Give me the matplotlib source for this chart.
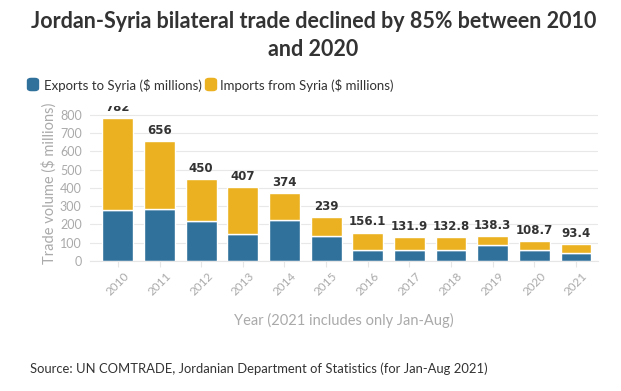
import matplotlib.pyplot as plt
from matplotlib.patches import FancyBboxPatch
import numpy as np

years = ["2010", "2011", "2012", "2013", "2014", "2015",
         "2016", "2017", "2018", "2019", "2020", "2021"]
totals = [782, 656, 450, 407, 374, 239, 156.1, 131.9, 132.8, 138.3, 108.7, 93.4]
exports = [278, 287, 218, 150, 223, 137, 60, 60, 59, 88, 59, 46]
imports = [t - e for t, e in zip(totals, exports)]
total_labels = ["782", "656", "450", "407", "374", "239",
                "156.1", "131.9", "132.8", "138.3", "108.7", "93.4"]

blue = "#30719c"
yellow = "#ebb121"
grey = "#aaaaaa"

plt.rcParams['font.family'] = ['Lato', 'DejaVu Sans']

fig = plt.figure(figsize=(6.21, 3.91), dpi=100)
ax = fig.add_axes([90 / 621, 1 - 261 / 391, 508 / 621, 155 / 391])

x = np.arange(len(years))
ax.bar(x, exports, width=0.74, color=blue, edgecolor="white", linewidth=1, zorder=2)
ax.bar(x, imports, width=0.74, bottom=exports, color=yellow, edgecolor="white",
       linewidth=1, zorder=2)

# total labels above each stack (clipped at the top like the original)
for xi, t, lab in zip(x, totals, total_labels):
    ax.text(xi, t + 22, lab, ha="center", va="bottom", fontsize=8.5,
            fontweight="bold", color="#333333", family="DejaVu Sans",
            zorder=3, clip_on=True)

ax.set_xlim(-0.67, 11.53)
ax.set_ylim(0, 849)
ax.set_yticks(range(0, 801, 100))
ax.tick_params(axis="y", length=0, labelsize=9, labelcolor=grey, pad=6)
ax.set_xticks(x)
ax.set_xticklabels(years, rotation=45, fontsize=8.5, color=grey)
ax.tick_params(axis="x", length=4, color="#e6e6e6", pad=3)
ax.grid(axis="y", color="#e8e8e8", linewidth=0.8, zorder=0)
for s in ax.spines.values():
    s.set_visible(False)
ax.spines["bottom"].set_visible(True)
ax.spines["bottom"].set_color("#e6e6e6")

ax.set_ylabel("Trade volume ($ millions)", fontsize=10.5, color=grey, labelpad=2)
ax.set_xlabel("Year (2021 includes only Jan-Aug)", fontsize=10.5, color=grey, labelpad=11)

fig.text(0.505, 1 - 22 / 391, "Jordan-Syria bilateral trade declined by 85% between 2010",
         ha="center", va="center", fontsize=15.5, fontweight="bold", color="#333333")
fig.text(0.505, 1 - 50 / 391, "and 2020",
         ha="center", va="center", fontsize=15.5, fontweight="bold", color="#333333")

# legend
fig.patches.append(FancyBboxPatch((30 / 621, 1 - 89 / 391), 6 / 621, 9 / 391,
                                  boxstyle="round,pad=0.004,rounding_size=0.006",
                                  transform=fig.transFigure, color=blue))
fig.text(44 / 621, 1 - 85 / 391, "Exports to Syria ($ millions)", ha="left",
         va="center", fontsize=9.5, color="#333333")
fig.patches.append(FancyBboxPatch((208 / 621, 1 - 89 / 391), 6 / 621, 9 / 391,
                                  boxstyle="round,pad=0.004,rounding_size=0.006",
                                  transform=fig.transFigure, color=yellow))
fig.text(220 / 621, 1 - 85 / 391, "Imports from Syria ($ millions)", ha="left",
         va="center", fontsize=9.5, color="#333333")

fig.text(30 / 621, 1 - 369 / 391,
         "Source: UN COMTRADE, Jordanian Department of Statistics (for Jan-Aug 2021)",
         ha="left", va="center", fontsize=9.4, color="#333333")

fig.savefig("out.png", dpi=100)
